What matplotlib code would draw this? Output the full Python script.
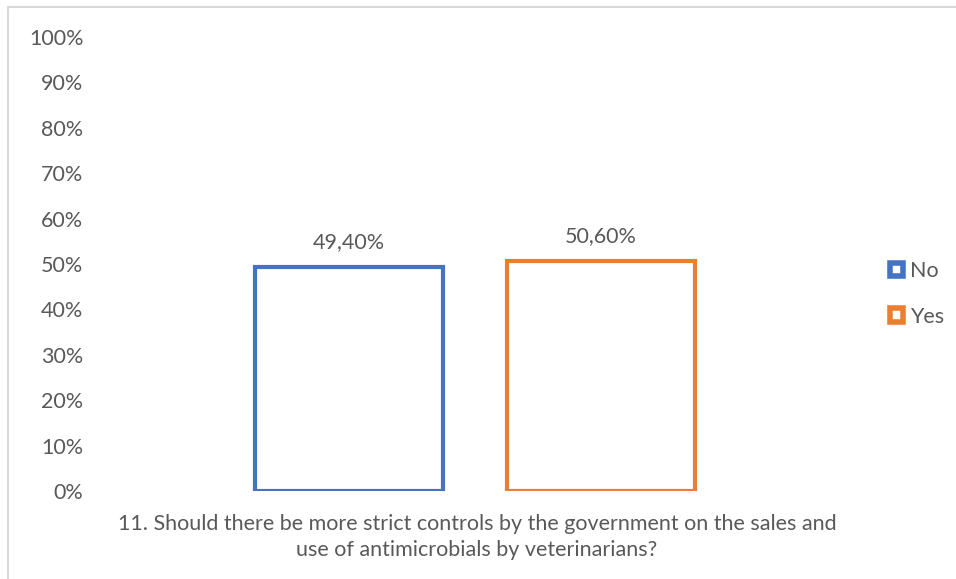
import matplotlib.pyplot as plt
from matplotlib.patches import Patch, Rectangle
from matplotlib.ticker import PercentFormatter

# data
series = ["No", "Yes"]
values = [0.494, 0.506]
labels = ["49,40%", "50,60%"]
colors = ["#4472C4", "#ED7D31"]
offsets = [-0.336, 0.336]
question = ("11. Should there be more strict controls by the government on the sales and\n"
            "use of antimicrobials by veterinarians?")

plt.rcParams["font.family"] = ["Lato", "DejaVu Sans"]
text_color = "#595959"
fs = 15.5

fig = plt.figure(figsize=(9.56, 5.79), dpi=100)
ax = fig.add_axes([100 / 956, 88 / 579, 750 / 956, 454 / 579])

# outer chart frame (cut off at right and bottom)
fig.patches.append(Rectangle((7.5 / 956, -0.05), 1.1, 1 - 6.5 / 579 + 0.05, transform=fig.transFigure,
                             fill=False, edgecolor="#D9D9D9", linewidth=1.5))

for x, v, lab, c in zip(offsets, values, labels, colors):
    ax.bar(x, v, width=0.5, facecolor="white", edgecolor=c, linewidth=3)
    ax.text(x, v + 0.055, lab, ha="center", va="center", fontsize=fs, color=text_color)

ax.set_xlim(-1, 1)
ax.set_ylim(0, 1)
ax.set_yticks([i / 10 for i in range(11)])
ax.yaxis.set_major_formatter(PercentFormatter(1.0, decimals=0))
ax.tick_params(axis="y", length=0, pad=12, labelsize=fs, labelcolor=text_color)
ax.set_xticks([])
for s in ax.spines.values():
    s.set_visible(False)

fig.text(477 / 956, 1 - 537 / 579, question, ha="center", va="center",
         fontsize=fs, color=text_color, linespacing=1.35)

handles = [Patch(facecolor="white", edgecolor=c, linewidth=4) for c in colors]
fig.legend(handles, series, loc="center left", bbox_to_anchor=(871 / 956, 1 - 294 / 579),
           frameon=False, fontsize=fs, labelcolor=text_color, handlelength=0.6,
           handleheight=0.6, handletextpad=0.3, labelspacing=1.2)

fig.savefig("out.png", dpi=100)
